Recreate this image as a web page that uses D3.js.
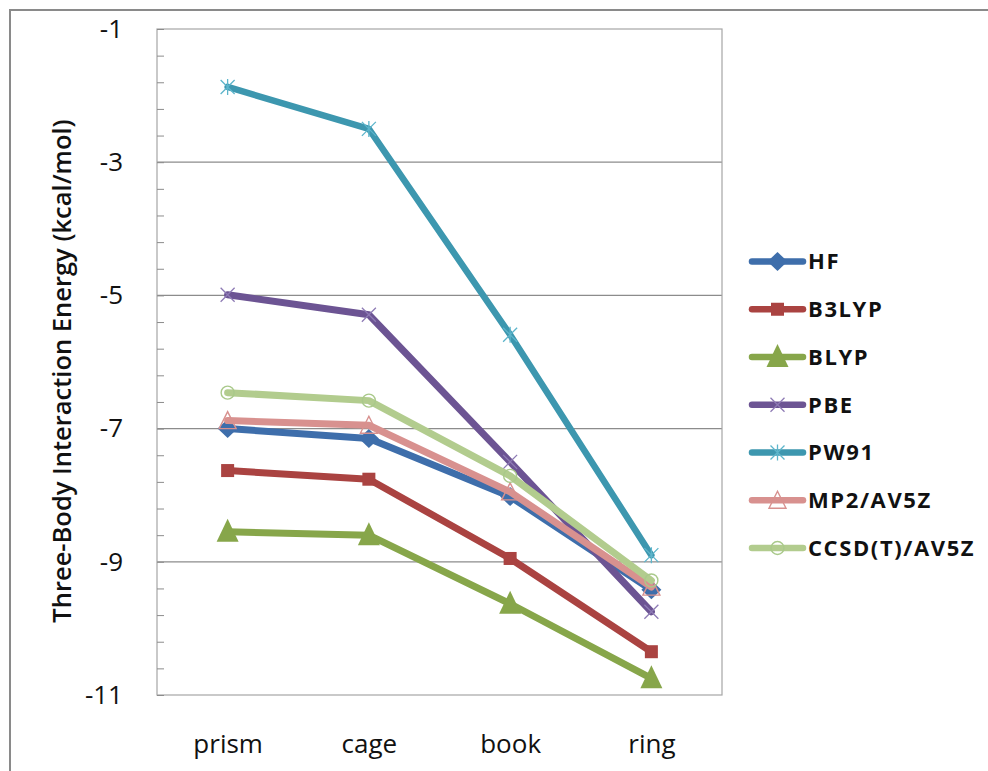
<!DOCTYPE html>
<html>
<head>
<meta charset="utf-8">
<script src="https://cdn.jsdelivr.net/npm/d3@7"></script>
<style>
  html, body { margin: 0; padding: 0; background: #fff; }
  svg { display: block; }
</style>
</head>
<body>
<svg id="chart" width="988" height="771"></svg>
<script>
// ---- data ----
const categories = ["prism", "cage", "book", "ring"];
const seriesNames = ["HF", "B3LYP", "BLYP", "PBE", "PW91", "MP2/AV5Z", "CCSD(T)/AV5Z"];
const hfValues    = [-7.00, -7.15, -8.02, -9.42];
const b3lypValues = [-7.63, -7.76, -8.95, -10.35];
const blypValues  = [-8.55, -8.60, -9.63, -10.75];
const pbeValues   = [-4.99, -5.29, -7.50, -9.75];
const pw91Values  = [-1.87, -2.50, -5.59, -8.90];
const mp2Values   = [-6.88, -6.95, -7.95, -9.38];
const ccsdValues  = [-6.46, -6.58, -7.71, -9.28];
const yTickLabels = [-1, -3, -5, -7, -9, -11];
const yTitle = "Three-Body Interaction Energy (kcal/mol)";

const seriesValues = [hfValues, b3lypValues, blypValues, pbeValues, pw91Values, mp2Values, ccsdValues];
const lineColors   = ["#3E6EAB", "#AA4341", "#87A64A", "#6C5493", "#3D97AF", "#D8918F", "#B2CC8E"];
const markerTypes  = ["diamond", "square", "triangle", "x", "star", "openTriangle", "circle"];
const markerColors = ["#3E6EAB", "#AA4341", "#87A64A", "#8E7BB5", "#5DB5CB", "#D8918F", "#A9C98A"];

// ---- layout ----
const svg = d3.select("#chart");
const plot = { left: 157, right: 722, top: 29, bottom: 695 };

const x = d3.scalePoint().domain(categories).range([plot.left, plot.right]).padding(0.5);
const y = d3.scaleLinear().domain([-11, -1]).range([plot.bottom, plot.top]);

// outer frame
svg.append("rect")
  .attr("x", 10).attr("y", 10).attr("width", 1000).attr("height", 800)
  .attr("fill", "none").attr("stroke", "#8a8a8a").attr("stroke-width", 2);

// gridlines
svg.append("g")
  .selectAll("line")
  .data(yTickLabels.filter(v => v !== -1 && v !== -11))
  .join("line")
  .attr("x1", plot.left).attr("x2", plot.right)
  .attr("y1", d => y(d)).attr("y2", d => y(d))
  .attr("stroke", "#8c8c8c").attr("stroke-width", 1.2);

// plot border
svg.append("rect")
  .attr("x", plot.left).attr("y", plot.top)
  .attr("width", plot.right - plot.left).attr("height", plot.bottom - plot.top)
  .attr("fill", "none").attr("stroke", "#a6a6a6").attr("stroke-width", 1.2);

// minor ticks (inside)
const minorTicks = d3.range(0, 26).map(i => -11 + i * 0.4);
const minorAxis = d3.axisLeft(y).tickValues(minorTicks).tickSize(-7).tickFormat("");
const gMinor = svg.append("g").attr("transform", `translate(${plot.left},0)`).call(minorAxis);
gMinor.select(".domain").remove();
gMinor.selectAll(".tick line").attr("stroke", "#8c8c8c").attr("stroke-width", 1);

// y tick labels
const labelAxis = d3.axisLeft(y).tickValues(yTickLabels).tickSize(0).tickPadding(34).tickFormat(d => String(d));
const gLab = svg.append("g").attr("transform", `translate(${plot.left},0)`).call(labelAxis);
gLab.select(".domain").remove();
gLab.selectAll("text")
  .attr("font-family", "'Open Sans', sans-serif")
  .attr("font-size", 26)
  .attr("fill", "#111");

// x category labels
const xAxis = d3.axisBottom(x).tickSize(0).tickPadding(0);
const gX = svg.append("g").attr("transform", `translate(0,${plot.bottom})`).call(xAxis);
gX.select(".domain").remove();
gX.selectAll("text")
  .attr("dy", null)
  .attr("y", 58)
  .attr("font-family", "'Open Sans', sans-serif")
  .attr("font-size", 26)
  .attr("fill", "#111");

// y title
svg.append("text")
  .attr("transform", "translate(71,371) rotate(-90)")
  .attr("text-anchor", "middle")
  .attr("font-family", "'Open Sans', sans-serif")
  .attr("font-weight", 600)
  .attr("font-size", 25.5)
  .attr("fill", "#111")
  .text(yTitle);

// marker drawing
function drawMarker(g, type, color) {
  switch (type) {
    case "diamond":
      g.append("path").attr("d", "M0,-9.5L10,0L0,9.5L-10,0Z").attr("fill", color);
      break;
    case "square":
      g.append("rect").attr("x", -6.5).attr("y", -6.5).attr("width", 13).attr("height", 13).attr("fill", color);
      break;
    case "triangle":
      g.append("path").attr("d", "M0,-13L11,10L-11,10Z").attr("fill", color);
      break;
    case "x":
      g.append("path").attr("d", "M-7,-7L7,7M-7,7L7,-7").attr("stroke", color).attr("stroke-width", 1.3).attr("fill", "none");
      break;
    case "star":
      g.append("path").attr("d", "M-7,-7L7,7M-7,7L7,-7M0,-8L0,8").attr("stroke", color).attr("stroke-width", 1.3).attr("fill", "none");
      break;
    case "openTriangle":
      g.append("path").attr("d", "M0,-9L8.5,8L-8.5,8Z").attr("stroke", color).attr("stroke-width", 1.4).attr("fill", "none");
      break;
    case "circle":
      g.append("circle").attr("r", 6.5).attr("stroke", color).attr("stroke-width", 1.4).attr("fill", "none");
      break;
  }
}

const line = d3.line().x((d, i) => x(categories[i])).y(d => y(d));

seriesValues.forEach((vals, s) => {
  const g = svg.append("g");
  g.append("path")
    .attr("d", line(vals))
    .attr("fill", "none")
    .attr("stroke", lineColors[s])
    .attr("stroke-width", s === 4 ? 6.5 : 7)
    .attr("stroke-linejoin", "round")
    .attr("stroke-linecap", "round");
  vals.forEach((v, i) => {
    const m = g.append("g").attr("transform", `translate(${x(categories[i])},${y(v)})`);
    drawMarker(m, markerTypes[s], markerColors[s]);
  });
});

// legend
const legend = svg.append("g");
const legendY = d3.scalePoint().domain(seriesNames).range([261.5, 548]);
seriesNames.forEach((name, s) => {
  const ly = legendY(name);
  legend.append("line")
    .attr("x1", 752).attr("x2", 803).attr("y1", ly).attr("y2", ly)
    .attr("stroke", lineColors[s]).attr("stroke-width", 6.5).attr("stroke-linecap", "round");
  const m = legend.append("g").attr("transform", `translate(777.5,${ly})`);
  drawMarker(m, markerTypes[s], markerColors[s]);
  legend.append("text")
    .attr("x", 808).attr("y", ly)
    .attr("dy", "0.36em")
    .attr("font-family", "'Open Sans', sans-serif")
    .attr("font-weight", 700)
    .attr("font-size", 22)
    .attr("letter-spacing", 1.6)
    .attr("fill", "#111")
    .text(name);
});
</script>
</body>
</html>
